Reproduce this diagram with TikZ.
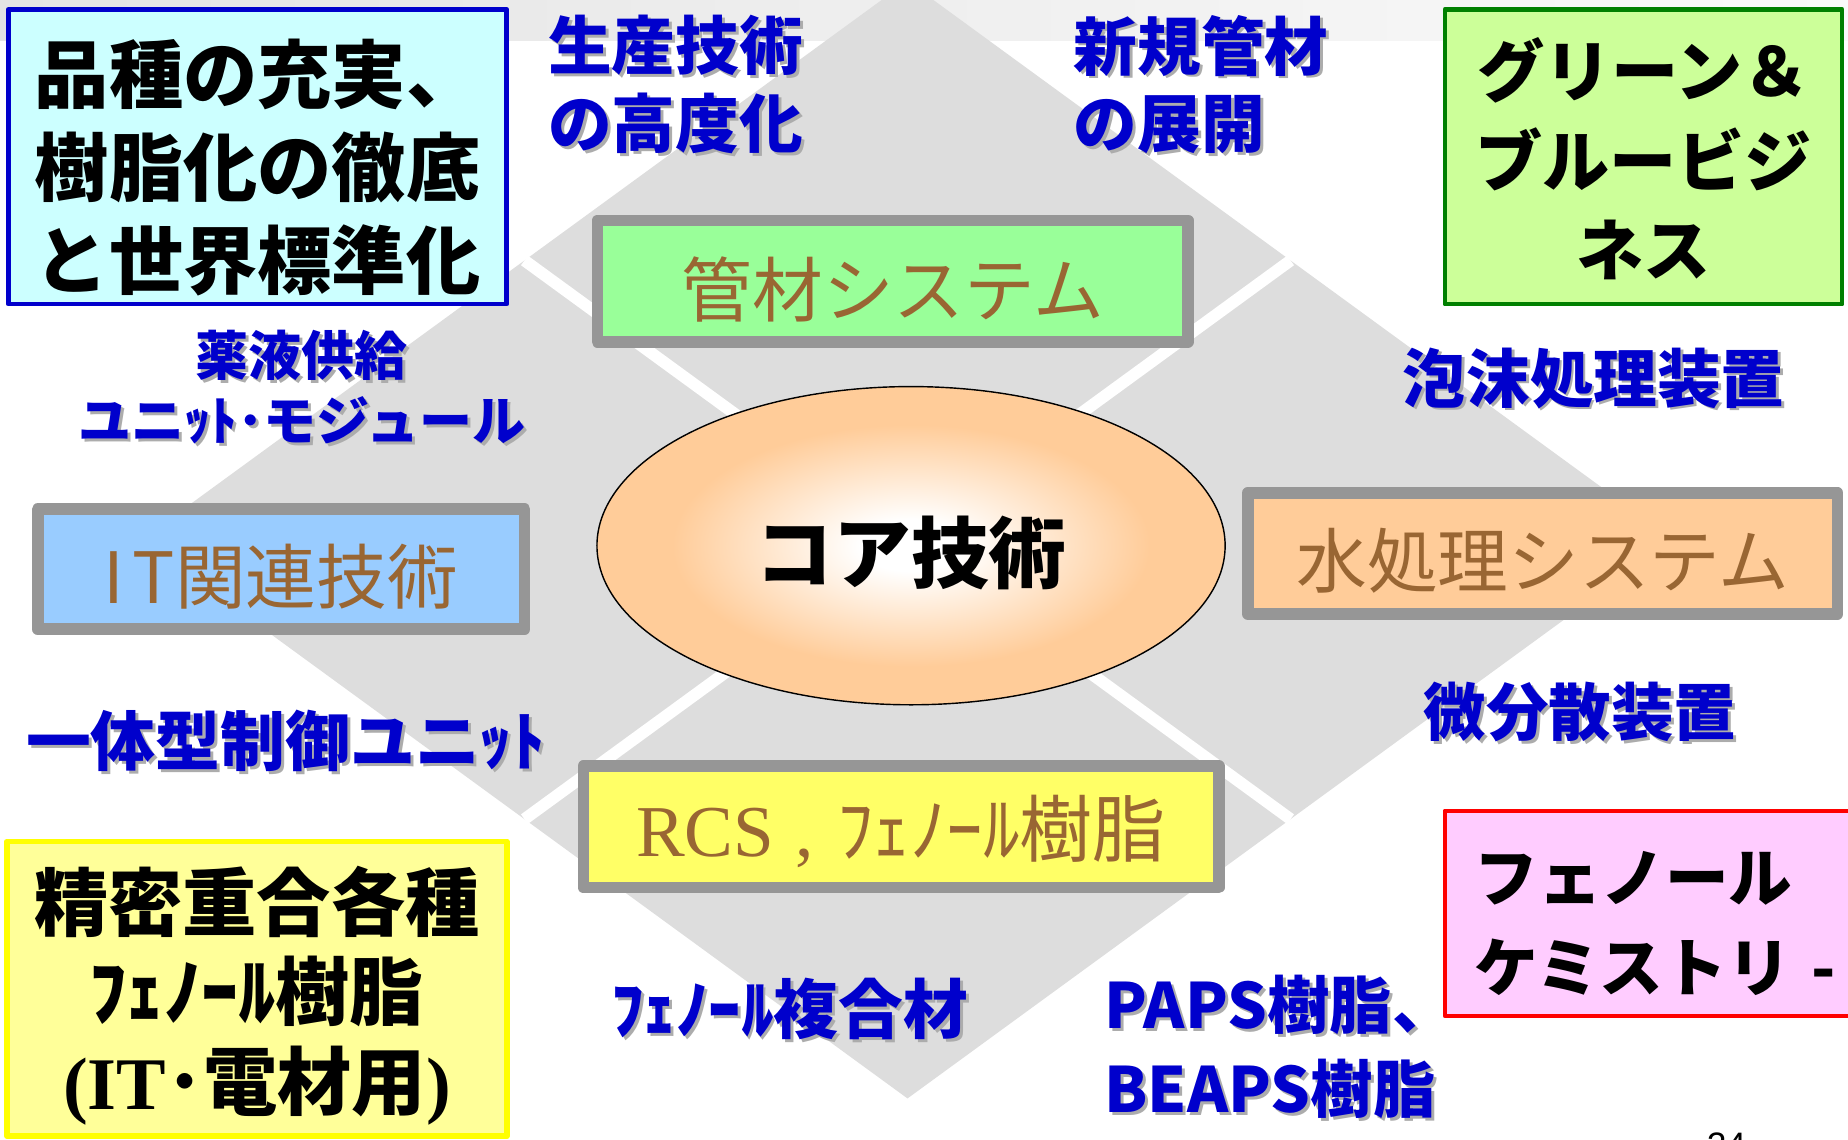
\documentclass[tikz,border=0pt]{standalone}
\usepackage{fontspec}
\newfontfamily\jp{Noto Sans CJK JP}
\newfontfamily\lserif{Liberation Serif}
\newfontfamily\lsans{Liberation Sans}
\usetikzlibrary{shapes.geometric}
\definecolor{Cfill}{RGB}{204,255,255}
\definecolor{Gfill}{RGB}{204,255,153}
\definecolor{Yfill}{RGB}{255,255,153}
\definecolor{Pfill}{RGB}{255,204,255}
\definecolor{Kfill}{RGB}{153,255,153}
\definecolor{Ifill}{RGB}{153,204,255}
\definecolor{Wfill}{RGB}{255,204,153}
\definecolor{Rfill}{RGB}{255,255,102}
\definecolor{Bline}{RGB}{0,0,204}
\definecolor{Gline}{RGB}{0,128,0}
\definecolor{Yline}{RGB}{255,255,0}
\definecolor{Pline}{RGB}{255,0,0}
\definecolor{Fgray}{RGB}{150,150,150}
\definecolor{Dgray}{RGB}{221,221,221}
\definecolor{Sgray}{RGB}{172,172,172}
\definecolor{Tblue}{RGB}{0,0,204}
\definecolor{Tbrown}{RGB}{153,102,51}
\definecolor{Band1}{RGB}{228,228,228}
\definecolor{Band2}{RGB}{250,250,250}
\pgfdeclareradialshading{coreglow}{\pgfpoint{0bp}{0bp}}{color(0bp)=(white);color(4bp)=(white);color(19bp)=(Wfill);color(50bp)=(Wfill)}
\newcommand\shd[1]{\leavevmode\rlap{\kern2.5pt\raisebox{-2.5pt}{\color{Sgray}#1}}#1}

\begin{document}
\begin{tikzpicture}[x=1pt,y=-1pt,line join=round,
  framebox/.style={rectangle,draw=Fgray,line width=10pt,inner sep=0pt,text=Tbrown,font=\jp\fontsize{60}{60}\selectfont},
  cornerbox/.style={rectangle,line width=4pt,inner sep=0pt,align=center,font=\jp\bfseries\fontsize{63}{79}\selectfont},
  bluetext/.style={inner sep=0pt,text=Tblue,font=\jp\bfseries\fontsize{54}{66}\selectfont}]
\path[use as bounding box] (0,0) rectangle (1568,967);
% background band and diamond
\shade[left color=Band1,right color=Band2] (0,0) rectangle (1568,34);
\coordinate (T) at (770,-16);
\coordinate (L) at (120,458);
\coordinate (B) at (770,932);
\coordinate (R) at (1420,458);
\coordinate (TL) at (445,221);
\coordinate (TR) at (1095,221);
\coordinate (BL) at (445,695);
\coordinate (BR) at (1095,695);
\fill[Dgray] (T) -- (R) -- (B) -- (L) -- cycle;
\draw[white,line width=10pt] (TL) -- (BR);
\draw[white,line width=10pt] (TR) -- (BL);
% centre
\node[ellipse,draw=black,line width=1.2pt,shade,shading=coreglow,minimum width=533pt,minimum height=270pt,inner sep=0pt,font=\jp\bfseries\fontsize{66}{66}\selectfont] (core) at (773,463) {\rule{0pt}{68pt}コア技術};
% systems
\node[framebox,fill=Kfill,minimum width=501pt,minimum height=103pt] (pipe) at (757.5,238.5) {\rule{0pt}{65pt}管材システム};
\node[framebox,fill=Ifill,minimum width=413pt,minimum height=102pt] (itech) at (238.5,483) {\rule{0pt}{63pt}I\kern7pt T関連技術};
\node[framebox,fill=Wfill,minimum width=500pt,minimum height=103pt] (water) at (1309,469.5) {\rule{0pt}{63pt}水処理システム};
\node[framebox,fill=Rfill,minimum width=539pt,minimum height=103pt,font=\jp\fontsize{62}{62}\selectfont] (rcs) at (764.5,701.5) {\rule{0pt}{60pt}{\lserif RCS\kern18pt,\kern20pt}ﾌｪﾉｰﾙ樹脂};
% corner boxes
\node[cornerbox,draw=Bline,fill=Cfill,minimum width=423pt,minimum height=250pt] (variety) at (218.5,133) {\rule{0pt}{72pt}品種の充実、\\樹脂化の徹底\\と世界標準化};
\node[cornerbox,draw=Gline,fill=Gfill,minimum width=337pt,minimum height=250pt,font=\jp\bfseries\fontsize{57}{76}\selectfont] (greenblue) at (1394.5,133) {\rule{0pt}{54pt}グリーン＆\\ブルービジ\\ネス};
\node[cornerbox,draw=Yline,line width=5pt,fill=Yfill,minimum width=424pt,minimum height=250pt,font=\jp\bfseries\fontsize{63}{76}\selectfont] (precise) at (218,839) {\rule{0pt}{66pt}精密重合各種\\ﾌｪﾉｰﾙ樹脂\\{\lserif\bfseries (IT}･電材用{\lserif\bfseries )}};
\node[cornerbox,draw=Pline,fill=Pfill,minimum width=374pt,minimum height=174pt,text width=324pt,align=left,font=\jp\bfseries\fontsize{54}{76}\selectfont] (chemistry) at (1413,775) {\rule{0pt}{60pt}フェノール\\ケミストリ -};
% blue labels
\node[bluetext,anchor=west,align=left] (prodtech) at (465,73) {\shd{生産技術}\\\shd{の高度化}};
\node[bluetext,anchor=west,align=left] (newpipe) at (911,73) {\shd{新規管材}\\\shd{の展開}};
\node[bluetext,align=center,font=\jp\bfseries\fontsize{45}{55}\selectfont] (supply) at (256,330) {\shd{薬液供給}\\\shd{ユニｯﾄ･モジュール}};
\node[bluetext,anchor=west] (foam) at (1190,322) {\shd{泡沫処理装置}};
\node[bluetext,anchor=west,font=\jp\bfseries\fontsize{53}{53}\selectfont] (disperse) at (1208,605) {\shd{微分散装置}};
\node[bluetext,anchor=west,font=\jp\bfseries\fontsize{55}{55}\selectfont] (control) at (22,630) {\shd{一体型制御ユニｯﾄ}};
\node[bluetext,font=\jp\bfseries\fontsize{55}{55}\selectfont] (composite) at (670,857) {\shd{ﾌｪﾉｰﾙ複合材}};
\node[bluetext,anchor=west,align=left,font=\jp\bfseries\fontsize{53}{71}\selectfont] (paps) at (937,889.5) {\shd{PAPS樹脂、}\\\shd{BEAPS樹脂}};
\node[inner sep=0pt,anchor=north west,font=\lsans\fontsize{30}{30}\selectfont] (pageno) at (1448,961) {24};
\end{tikzpicture}
\end{document}
